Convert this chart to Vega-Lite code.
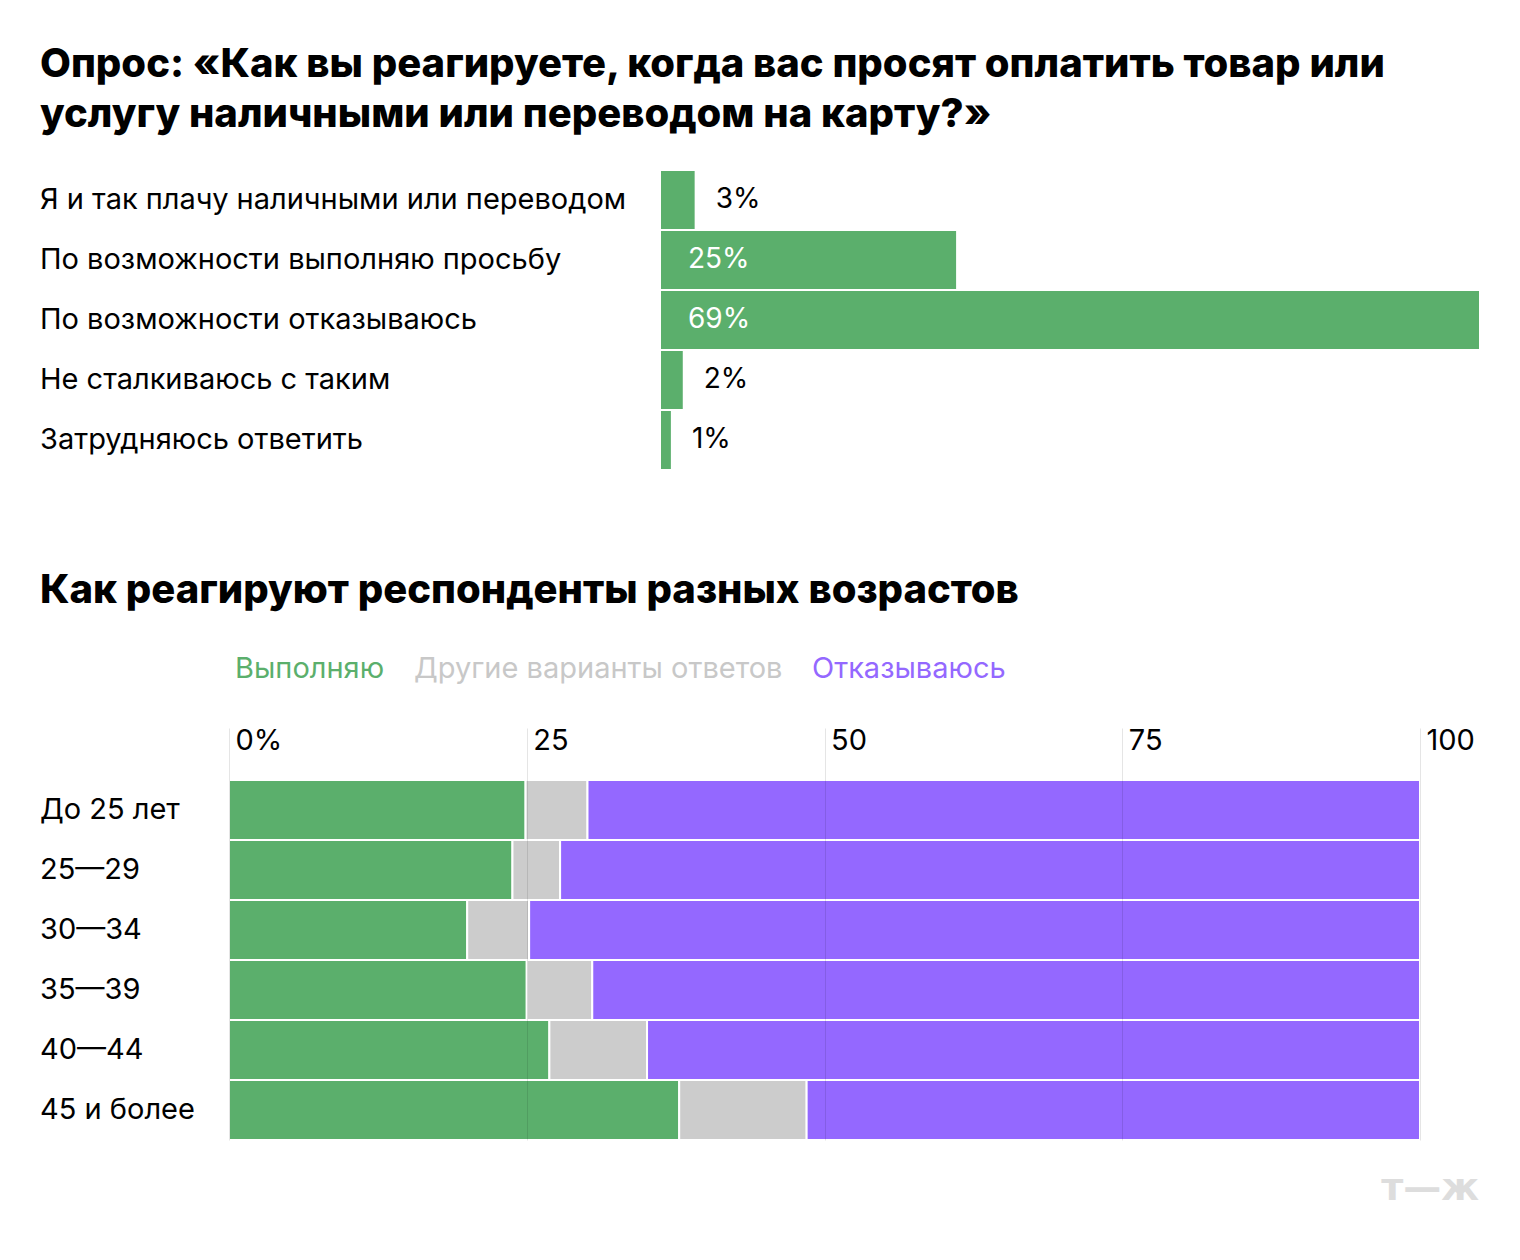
{
  "$schema": "https://vega.github.io/schema/vega-lite/v6.json",
  "background": "white",
  "padding": {"left": 40, "top": 45, "right": 0, "bottom": 0},
  "title": {
    "text": [
      "Опрос: «Как вы реагируете, когда вас просят оплатить товар или",
      "услугу наличными или переводом на карту?»"
    ],
    "anchor": "start",
    "frame": "bounds",
    "font": "Inter",
    "fontSize": 40,
    "fontWeight": 800,
    "lineHeight": 50,
    "color": "#000000",
    "offset": 34
  },
  "config": {
    "view": {"stroke": null},
    "font": "Inter"
  },
  "columns": 1,
  "spacing": 20,
  "resolve": {"scale": {"color": "independent"}, "legend": {"color": "independent"}},
  "concat": [
    {
      "data": {
        "values": [
          {"answer": "Я и так плачу наличными или переводом", "share": 0.03},
          {"answer": "По возможности выполняю просьбу", "share": 0.25},
          {"answer": "По возможности отказываюсь", "share": 0.69},
          {"answer": "Не сталкиваюсь с таким", "share": 0.02},
          {"answer": "Затрудняюсь ответить", "share": 0.01}
        ]
      },
      "spacing": 0,
      "hconcat": [
        {
          "width": 619,
          "height": 381,
          "mark": {"type": "text", "align": "left", "baseline": "middle", "fontSize": 29, "color": "#000000"},
          "encoding": {
            "y": {
              "field": "answer",
              "type": "nominal",
              "sort": null,
              "scale": {"type": "band", "paddingInner": 0, "paddingOuter": 0.675, "align": 0},
              "axis": null
            },
            "x": {"datum": 0, "type": "quantitative", "scale": {"domain": [0, 1]}, "axis": null},
            "text": {"field": "answer"}
          }
        },
        {
          "width": 820,
          "height": 381,
          "encoding": {
            "y": {
              "field": "answer",
              "type": "nominal",
              "sort": null,
              "scale": {"type": "band", "paddingInner": 0, "paddingOuter": 0.675, "align": 0},
              "axis": null
            }
          },
          "layer": [
            {
              "mark": {"type": "bar", "color": "#5BAF6C", "stroke": "white", "strokeWidth": 2},
              "encoding": {
                "x": {
                  "field": "share",
                  "type": "quantitative",
                  "scale": {"domain": [0, 0.69], "nice": false},
                  "axis": null
                }
              }
            },
            {
              "transform": [{"filter": "datum.share >= 0.1"}],
              "mark": {"type": "text", "align": "left", "baseline": "middle", "dx": 28, "color": "white", "fontSize": 28},
              "encoding": {
                "x": {"datum": 0, "type": "quantitative"},
                "text": {"field": "share", "format": ".0%"}
              }
            },
            {
              "transform": [{"filter": "datum.share < 0.1"}],
              "mark": {"type": "text", "align": "left", "baseline": "middle", "dx": 20, "color": "#000000", "fontSize": 28},
              "encoding": {
                "x": {"field": "share", "type": "quantitative"},
                "text": {"field": "share", "format": ".0%"}
              }
            }
          ]
        }
      ]
    },
    {
      "title": {
        "text": "Как реагируют респонденты разных возрастов",
        "anchor": "start",
        "frame": "bounds",
        "font": "Inter",
        "fontSize": 40,
        "fontWeight": 800,
        "color": "#000000",
        "offset": 43
      },
      "data": {
        "values": [
          {"age": "До 25 лет", "answer": "Выполняю", "pct": 24.9},
          {"age": "До 25 лет", "answer": "Другие варианты ответов", "pct": 5.2},
          {"age": "До 25 лет", "answer": "Отказываюсь", "pct": 69.9},
          {"age": "25—29", "answer": "Выполняю", "pct": 23.8},
          {"age": "25—29", "answer": "Другие варианты ответов", "pct": 4.0},
          {"age": "25—29", "answer": "Отказываюсь", "pct": 72.2},
          {"age": "30—34", "answer": "Выполняю", "pct": 20.0},
          {"age": "30—34", "answer": "Другие варианты ответов", "pct": 5.2},
          {"age": "30—34", "answer": "Отказываюсь", "pct": 74.8},
          {"age": "35—39", "answer": "Выполняю", "pct": 25.0},
          {"age": "35—39", "answer": "Другие варианты ответов", "pct": 5.5},
          {"age": "35—39", "answer": "Отказываюсь", "pct": 69.5},
          {"age": "40—44", "answer": "Выполняю", "pct": 26.9},
          {"age": "40—44", "answer": "Другие варианты ответов", "pct": 8.2},
          {"age": "40—44", "answer": "Отказываюсь", "pct": 64.9},
          {"age": "45 и более", "answer": "Выполняю", "pct": 37.8},
          {"age": "45 и более", "answer": "Другие варианты ответов", "pct": 10.7},
          {"age": "45 и более", "answer": "Отказываюсь", "pct": 51.5}
        ]
      },
      "spacing": 0,
      "resolve": {"scale": {"color": "independent"}, "legend": {"color": "independent"}},
      "hconcat": [
        {
          "width": 188,
          "height": 360,
          "transform": [{"filter": "datum.answer == 'Выполняю'"}],
          "mark": {"type": "text", "align": "left", "baseline": "middle", "fontSize": 29, "color": "#000000"},
          "encoding": {
            "y": {
              "field": "age",
              "type": "nominal",
              "sort": null,
              "scale": {"type": "band", "paddingInner": 0, "paddingOuter": 0},
              "axis": null
            },
            "x": {"datum": 0, "type": "quantitative", "scale": {"domain": [0, 1]}, "axis": null},
            "text": {"field": "age"}
          }
        },
        {
          "width": 1191,
          "height": 360,
          "mark": {"type": "bar", "stroke": "white", "strokeWidth": 2},
          "encoding": {
            "y": {
              "field": "age",
              "type": "nominal",
              "sort": null,
              "scale": {"paddingInner": 0, "paddingOuter": 0},
              "axis": null
            },
            "x": {
              "field": "pct",
              "type": "quantitative",
              "stack": "zero",
              "scale": {"domain": [0, 100], "nice": false},
              "axis": {
                "orient": "top",
                "title": null,
                "values": [0, 25, 50, 75, 100],
                "domain": false,
                "tickSize": 52,
                "tickColor": "#000000",
                "tickOpacity": 0.1,
                "grid": true,
                "gridColor": "#000000",
                "gridOpacity": 0.1,
                "labelExpr": "datum.value == 0 ? '0%' : datum.label",
                "labelAlign": "left",
                "labelBaseline": "middle",
                "labelPadding": -12,
                "labelOffset": 6,
                "labelFlush": false,
                "labelOverlap": false,
                "labelFontSize": 29,
                "labelColor": "#000000",
                "zindex": 1
              }
            },
            "color": {
              "field": "answer",
              "type": "nominal",
              "scale": {
                "domain": ["Выполняю", "Другие варианты ответов", "Отказываюсь"],
                "range": ["#5BAF6C", "#CCCCCC", "#9468FF"]
              },
              "legend": {
                "orient": "top",
                "direction": "horizontal",
                "title": null,
                "symbolSize": 0,
                "symbolStrokeWidth": 0,
                "symbolOpacity": 0,
                "labelFontSize": 29,
                "labelOffset": -23,
                "columnPadding": 23,
                "labelLimit": 0,
                "offset": 42,
                "labelColor": {"expr": "datum.label == 'Выполняю' ? '#5BAF6C' : datum.label == 'Отказываюсь' ? '#9468FF' : '#C8C8C8'"}
              }
            }
          }
        }
      ]
    },
    {
      "width": 1439,
      "height": 56,
      "data": {"values": [{"brand": "т—ж"}]},
      "mark": {"type": "text", "align": "right", "baseline": "middle", "font": "DejaVu Sans", "fontSize": 38, "fontWeight": 700, "color": "#DDDDDD"},
      "encoding": {
        "x": {"datum": 1, "type": "quantitative", "scale": {"domain": [0, 1]}, "axis": null},
        "text": {"field": "brand"}
      }
    }
  ]
}
